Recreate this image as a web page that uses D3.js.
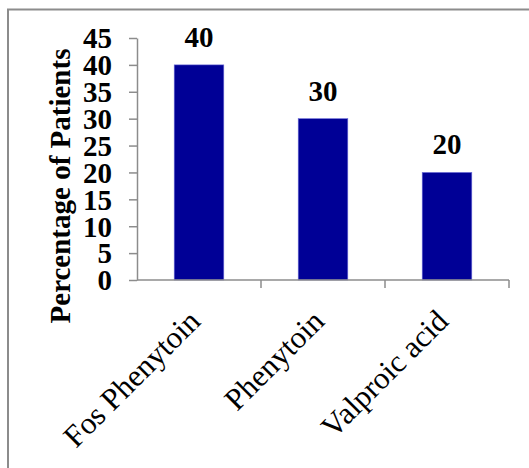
<!DOCTYPE html>
<html>
<head>
<meta charset="utf-8">
<script src="https://cdn.jsdelivr.net/npm/d3@7"></script>
<style>
  html, body { margin: 0; padding: 0; background: #fff; }
  svg { display: block; }
</style>
</head>
<body>
<script>
// Share of patients by antiepileptic drug
const categories = ["Fos Phenytoin", "Phenytoin", "Valproic acid"];
const percentages = [40, 30, 20];
const yTicks = [0, 5, 10, 15, 20, 25, 30, 35, 40, 45];
const yTitle = "Percentage of Patients";

const W = 529, H = 468;
const plot = { left: 137, right: 509, top: 38, bottom: 280 };
const serif = "'Liberation Serif', 'Times New Roman', serif";

const svg = d3.select("body").append("svg")
  .attr("width", W).attr("height", H);

// outer frame
svg.append("rect")
  .attr("x", 8).attr("y", 9.5)
  .attr("width", W + 20).attr("height", H + 20)
  .attr("fill", "none")
  .attr("stroke", "#8c8c8c")
  .attr("stroke-width", 2);

const x = d3.scaleBand()
  .domain(categories)
  .range([plot.left, plot.right])
  .paddingInner(0.6)
  .paddingOuter(0.3);

const xBand = d3.scaleBand()
  .domain(categories)
  .range([plot.left, plot.right]);

const y = d3.scaleLinear()
  .domain([0, 45])
  .range([plot.bottom, plot.top]);

// bars
svg.append("g").selectAll("rect")
  .data(categories)
  .join("rect")
  .attr("x", d => x(d))
  .attr("width", x.bandwidth())
  .attr("y", (d, i) => y(percentages[i]))
  .attr("height", (d, i) => y(0) - y(percentages[i]))
  .attr("fill", "#000096")
  .attr("stroke", "#6c6cd8")
  .attr("stroke-width", 0.6);

// y axis
const yAxis = svg.append("g")
  .attr("transform", `translate(${plot.left},0)`)
  .call(d3.axisLeft(y).tickValues(yTicks).tickSize(8).tickPadding(17).tickSizeOuter(0));
yAxis.select(".domain").attr("stroke", "#8c8c8c").attr("stroke-width", 1.5);
yAxis.selectAll(".tick line").attr("stroke", "#8c8c8c").attr("stroke-width", 1.5);
yAxis.selectAll(".tick text")
  .attr("fill", "#000")
  .attr("dy", "0.34em")
  .style("font-family", serif)
  .style("font-weight", "bold")
  .style("font-size", "29px");

// x axis: ticks sit on band boundaries
const xAxisG = svg.append("g")
  .attr("transform", `translate(0,${plot.bottom})`);
xAxisG.append("line")
  .attr("x1", plot.left).attr("x2", plot.right)
  .attr("stroke", "#8c8c8c").attr("stroke-width", 1.5);
xAxisG.selectAll("line.tk")
  .data(categories)
  .join("line")
  .attr("class", "tk")
  .attr("x1", d => xBand(d) + xBand.bandwidth())
  .attr("x2", d => xBand(d) + xBand.bandwidth())
  .attr("y1", 0).attr("y2", 8)
  .attr("stroke", "#8c8c8c").attr("stroke-width", 1.5);

// category labels, rotated
xAxisG.selectAll("text")
  .data(categories)
  .join("text")
  .attr("transform", d => `translate(${xBand(d) + xBand.bandwidth() / 2 + 3},43) rotate(-45)`)
  .attr("text-anchor", "end")
  .style("font-family", serif)
  .style("font-size", "31px")
  .attr("fill", "#000")
  .text(d => d);

// value labels
svg.append("g").selectAll("text")
  .data(categories)
  .join("text")
  .attr("x", d => x(d) + x.bandwidth() / 2)
  .attr("y", (d, i) => y(percentages[i]) - 18)
  .attr("text-anchor", "middle")
  .style("font-family", serif)
  .style("font-weight", "bold")
  .style("font-size", "29px")
  .attr("fill", "#000")
  .text((d, i) => percentages[i]);

// y title
svg.append("text")
  .attr("transform", `translate(70,186) rotate(-90)`)
  .attr("text-anchor", "middle")
  .style("font-family", serif)
  .style("font-weight", "bold")
  .style("font-size", "29px")
  .attr("fill", "#000")
  .text(yTitle);
</script>
</body>
</html>
